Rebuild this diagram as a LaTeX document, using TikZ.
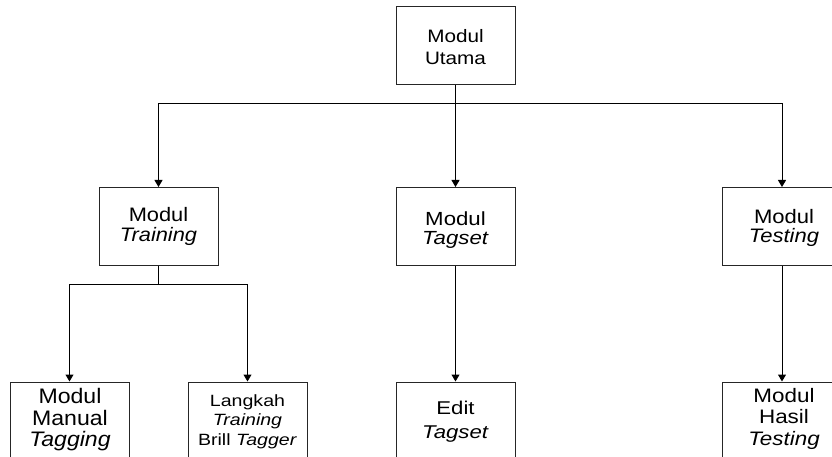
\documentclass[tikz,border=0pt]{standalone}
\usepackage{fontspec}
\setmainfont{Liberation Sans}
\usepackage{graphicx}
\usetikzlibrary{arrows.meta}
\newcommand{\bxt}[4]{\scalebox{#1}[1]{\fontsize{#2}{#3}\selectfont\begin{tabular}[t]{@{}c@{}}#4\end{tabular}}}
\begin{document}
\begin{tikzpicture}[x=1pt,y=-1pt,
  box/.style={draw=black!85, line width=1pt, minimum width=119pt, minimum height=78pt, inner sep=0pt},
  txt/.style={anchor=base, inner sep=0pt},
  arr/.style={line width=1pt, -{Triangle[length=7pt,width=8pt]}}]
\useasboundingbox (0,0) rectangle (832,457);
\clip (0,0) rectangle (832,457);
% boxes
\node[box] (utama)   at (455.5,46)    {};
\node[box] (training) at (158.5,226.5) {};
\node[box] (tagset)  at (455.5,226.5) {};
\node[box, minimum width=120pt] (testing) at (782,226.5) {};
\node[box] (manual)  at (69.5,421)    {};
\node[box] (langkah) at (247.5,421)   {};
\node[box] (edit)    at (455.5,421)   {};
\node[box, minimum width=120pt] (hasil) at (782,421) {};
% texts
\node[txt] (utama-t)   at (455.5,42.3)  {\bxt{1.15}{18}{22.7}{Modul\\Utama}};
\node[txt] (training-t) at (158.5,221.7) {\bxt{1.12}{19.5}{18.3}{Modul\\\textit{Training}}};
\node[txt] (tagset-t)  at (455.5,225.8) {\bxt{1.17}{19}{19.2}{Modul\\\textit{Tagset}}};
\node[txt] (testing-t) at (784,223.3)   {\bxt{1.13}{19.5}{18.4}{Modul\\\textit{Testing}}};
\node[txt] (manual-t)  at (70,403.3)    {\bxt{1.1}{21}{21.7}{Modul\\Manual\\\textit{Tagging}}};
\node[txt] (langkah-t) at (247.5,406.7) {\bxt{1.2}{16.3}{19.2}{Langkah\\\textit{Training}\\Brill \textit{Tagger}}};
\node[txt] (edit-t)    at (455.5,414.3) {\bxt{1.2}{18.5}{24}{Edit\\\textit{Tagset}}};
\node[txt] (hasil-t)   at (784,402.3)   {\bxt{1.15}{19.5}{21.4}{Modul\\Hasil\\\textit{Testing}}};
% connectors
\coordinate (bus1) at (455.5,104);
\coordinate (bus2) at (158.5,284);
\draw[arr] (utama.south) -- (tagset.north);
\draw[arr] (bus1) -| (training.north);
\draw[arr] (bus1) -| (testing.north);
\draw[line width=1pt] (training.south) -- (bus2);
\draw[arr] (bus2) -| (manual.north);
\draw[arr] (bus2) -| (langkah.north);
\draw[arr] (tagset.south) -- (edit.north);
\draw[arr] (testing.south) -- (hasil.north);
\end{tikzpicture}
\end{document}
